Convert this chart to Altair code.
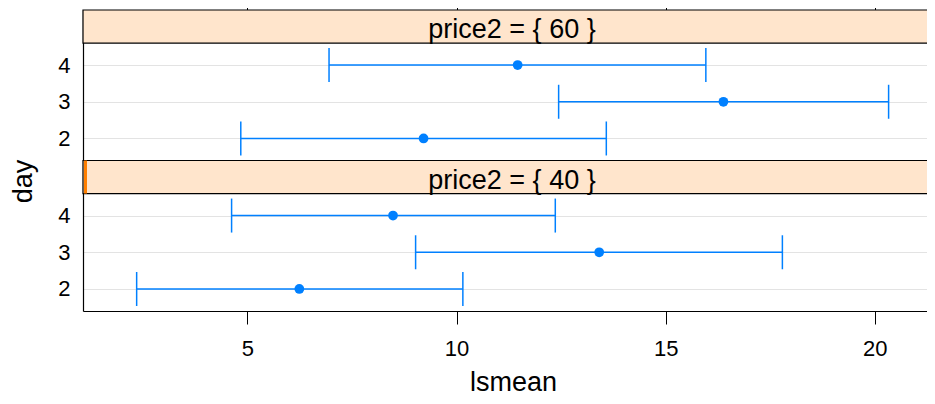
import altair as alt
import pandas as pd

# ---- data ----
days = [2, 3, 4]
price_levels = [40, 60]
lsmean_40 = [6.24, 13.41, 8.48]
lower_40 = [2.35, 9.02, 4.62]
upper_40 = [10.15, 17.79, 12.36]
lsmean_60 = [9.21, 16.38, 11.46]
lower_60 = [4.84, 12.44, 6.95]
upper_60 = [13.58, 20.33, 15.96]
x_ticks = [5, 10, 15, 20]
strip_labels = ["price2 = { 40 }", "price2 = { 60 }"]

# ---- layout constants (panel stacking in y units) ----
OFFSET = {40: 0.0, 60: 4.1}
STRIP = {40: (4.6, 5.5), 60: (8.7, 9.6)}
W, H = 844, 301
BLUE = "#0080ff"
FONT = "Liberation Sans"

rows = []
for p, m, lo, up in [(40, lsmean_40, lower_40, upper_40), (60, lsmean_60, lower_60, upper_60)]:
    for d, mm, l, u in zip(days, m, lo, up):
        rows.append({"price2": p, "day": d, "lsmean": mm, "lower": l, "upper": u,
                     "ypos": d + OFFSET[p]})
df = pd.DataFrame(rows)

sdf = pd.DataFrame({
    "price2": price_levels,
    "label": strip_labels,
    "y0": [STRIP[p][0] for p in price_levels],
    "y1": [STRIP[p][1] for p in price_levels],
    "ytext": [STRIP[p][1] - 0.77 for p in price_levels],
})

xs = alt.Scale(domain=[1.067, 21.248], nice=False, zero=False)
ys = alt.Scale(domain=[1.4, 9.6], nice=False, zero=False)

ytick_vals = [d + OFFSET[p] for p in price_levels for d in days]

bottom_axis = alt.Axis(
    values=x_ticks, tickSize=13, tickColor="black", domainColor="black", grid=False,
    labelFont=FONT, labelFontSize=22, labelColor="black", labelBaseline="alphabetic",
    labelPadding=31, title="lsmean", titleFont=FONT, titleFontSize=27,
    titleFontWeight="normal", titleColor="black", titleBaseline="alphabetic",
    titleY=79, titleX=430,
)
top_axis = alt.Axis(
    orient="top", values=x_ticks, tickSize=10, tickColor="black", domainColor="black",
    labels=False, grid=False, title=None,
)
left_axis = alt.Axis(
    values=ytick_vals, ticks=False, tickSize=0, labelPadding=13,
    labelExpr="round(datum.value > 5 ? datum.value - 4.1 : datum.value)",
    labelFont=FONT, labelFontSize=22, labelColor="black", labelBaseline="middle",
    domainColor="black", domainWidth=1.2, grid=True, gridColor="#e3e3e3", gridWidth=1.2,
    title="day", titleFont=FONT, titleFontSize=27, titleFontWeight="normal",
    titleColor="black", titleBaseline="alphabetic", titleX=-52, titleY=171,
    titleAlign="center",
)

base = alt.Chart(df)

bars = base.mark_rule(color=BLUE, strokeWidth=1.5).encode(
    x=alt.X("lower:Q", scale=xs, axis=bottom_axis),
    x2="upper:Q",
    y=alt.Y("ypos:Q", scale=ys, axis=left_axis),
)
cap_lo = base.mark_rule(color=BLUE, strokeWidth=1.5, yOffset=-17, y2Offset=17).encode(
    x=alt.X("lower:Q", scale=xs, axis=None),
    y=alt.Y("ypos:Q", scale=ys, axis=None),
    y2="ypos:Q",
)
cap_hi = base.mark_rule(color=BLUE, strokeWidth=1.5, yOffset=-17, y2Offset=17).encode(
    x=alt.X("upper:Q", scale=xs, axis=None),
    y=alt.Y("ypos:Q", scale=ys, axis=None),
    y2="ypos:Q",
)
points = base.mark_point(filled=True, size=95, opacity=1, color=BLUE).encode(
    x=alt.X("lsmean:Q", scale=xs, axis=top_axis),
    y=alt.Y("ypos:Q", scale=ys, axis=None),
)

sbase = alt.Chart(sdf)
strips = sbase.mark_rect(fill="#ffe5cc", stroke="black", strokeWidth=1.2).encode(
    x=alt.value(0), x2=alt.value(W + 10),
    y=alt.Y("y0:Q", scale=ys, axis=None), y2="y1:Q",
)
indicator = sbase.transform_filter(alt.datum.price2 == 40).mark_rect(fill="#ff7f00").encode(
    x=alt.value(1), x2=alt.value(4),
    y=alt.Y("y0:Q", scale=ys, axis=None), y2="y1:Q",
)
strip_text = sbase.mark_text(font=FONT, fontSize=27, color="black", align="center",
                             baseline="alphabetic").encode(
    x=alt.value(429),
    y=alt.Y("ytext:Q", scale=ys, axis=None),
    text="label:N",
)

chart = alt.layer(strips, indicator, strip_text, bars, cap_lo, cap_hi, points).resolve_axis(
    x="independent", y="independent"
).properties(
    width=W, height=H,
    autosize=alt.AutoSizeParams(type="none"),
    padding={"left": 75, "top": 2, "right": 0, "bottom": 85},
).configure_view(stroke=None)

chart.save("out.html", embed_options={"renderer": "svg", "actions": False})
